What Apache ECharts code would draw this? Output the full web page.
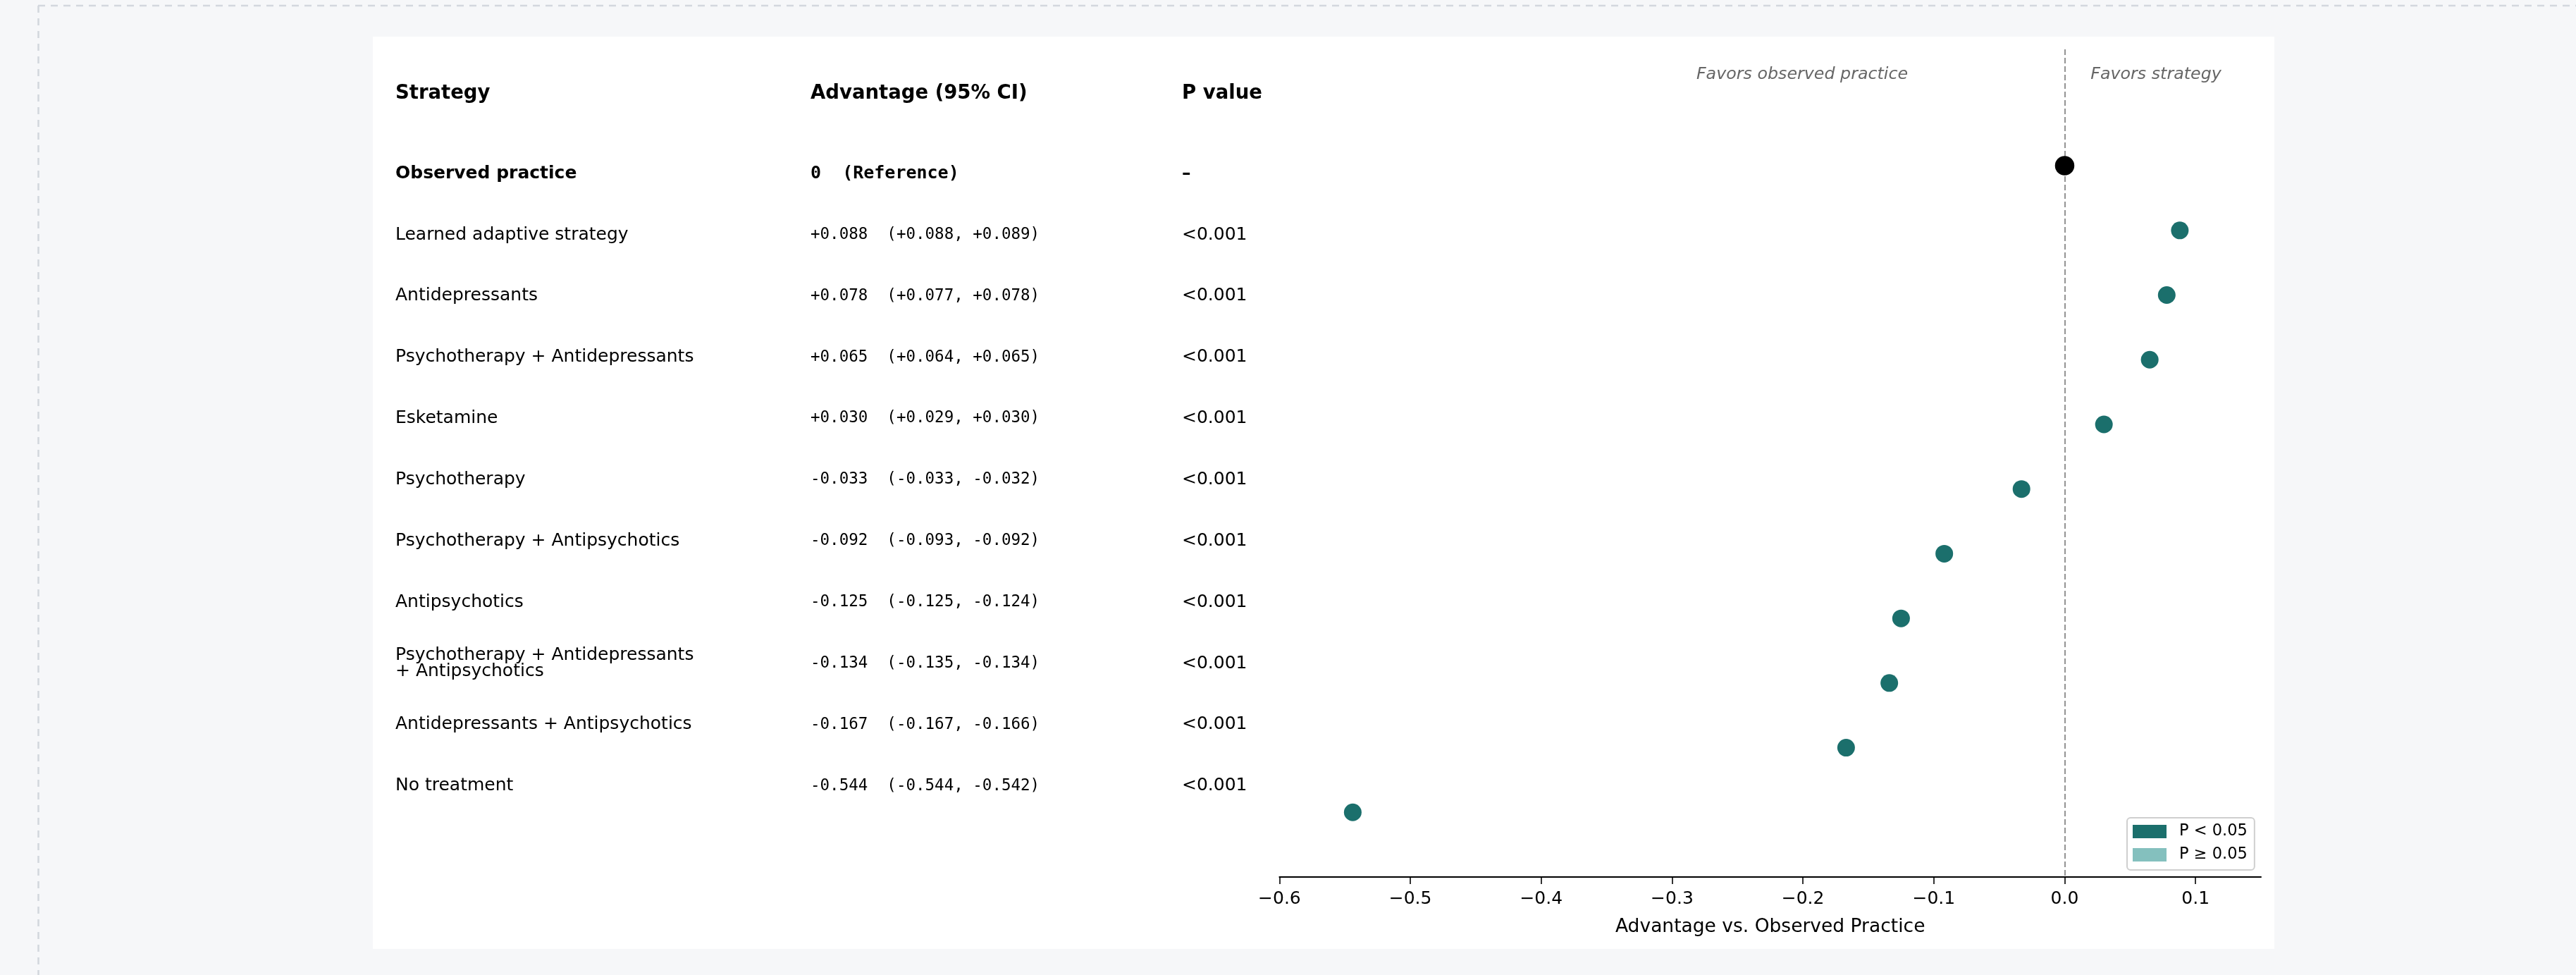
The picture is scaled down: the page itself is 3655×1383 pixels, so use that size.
<!DOCTYPE html>
<html><head><meta charset="utf-8">
<script src="https://cdn.jsdelivr.net/npm/echarts@6/dist/echarts.min.js"></script>
<style>html,body{margin:0;padding:0;background:#f6f7f9;overflow:hidden}#chart{width:3655px;height:1383px;}</style>
</head><body><div id="chart"></div>
<script>
// ---- data ----
const strategies = [
  'Observed practice',
  'Learned adaptive strategy',
  'Antidepressants',
  'Psychotherapy + Antidepressants',
  'Esketamine',
  'Psychotherapy',
  'Psychotherapy + Antipsychotics',
  'Antipsychotics',
  'Psychotherapy + Antidepressants\n+ Antipsychotics',
  'Antidepressants + Antipsychotics',
  'No treatment'
];
const estimates = [0, 0.088, 0.078, 0.065, 0.030, -0.033, -0.092, -0.125, -0.134, -0.167, -0.544];
const ciLower   = [0, 0.088, 0.077, 0.064, 0.029, -0.033, -0.093, -0.125, -0.135, -0.167, -0.544];
const ciUpper   = [0, 0.089, 0.078, 0.065, 0.030, -0.032, -0.092, -0.124, -0.134, -0.166, -0.542];
const pValueLabels = ['–', '<0.001', '<0.001', '<0.001', '<0.001', '<0.001', '<0.001', '<0.001', '<0.001', '<0.001', '<0.001'];
const referenceLabel = '0  (Reference)';
const columnHeaders = ['Strategy', 'Advantage (95% CI)', 'P value'];
const xTickValues = [-0.6, -0.5, -0.4, -0.3, -0.2, -0.1, 0.0, 0.1];
const xTickLabels = ['\u22120.6', '\u22120.5', '\u22120.4', '\u22120.3', '\u22120.2', '\u22120.1', '0.0', '0.1'];
const xAxisTitle = 'Advantage vs. Observed Practice';
const annotations = ['Favors observed practice', 'Favors strategy'];
const legendLabels = ['P < 0.05', 'P \u2265 0.05'];

// ---- helpers ----
function fmt(v) { return (v > 0 ? '+' : (v < 0 ? '-' : '')) + Math.abs(v).toFixed(3); }
function pNum(lbl) { const m = /[\d.]+/.exec(lbl); return m ? parseFloat(m[0]) : null; }
const isRef = strategies.map((s, i) => pNum(pValueLabels[i]) === null);
const isSig = pValueLabels.map(l => { const p = pNum(l); return p !== null && p < 0.05; });

const sigData = [], nonSigData = [], refData = [];
estimates.forEach((v, i) => {
  if (isRef[i]) refData.push([v, i]);
  else if (isSig[i]) sigData.push([v, i]);
  else nonSigData.push([v, i]);
});

const FONT = '"DejaVu Sans"';
const MONO = '"DejaVu Sans Mono"';
const COL_X = [561, 1150, 1677];
const TEAL = '#1b6f6c', LIGHT = '#84c0be';

const chart = echarts.init(document.getElementById('chart'), null, {renderer: 'canvas'});
chart.setOption({
  backgroundColor: '#f6f7f9',
  animation: false,
  textStyle: {fontFamily: FONT},
  graphic: [
    {type: 'rect', shape: {x: 529, y: 52, width: 2698, height: 1294}, style: {fill: '#ffffff'}, z: -10, silent: true},
    {type: 'line', shape: {x1: 54, y1: 8, x2: 3655, y2: 8}, style: {stroke: '#d3d7de', lineWidth: 2.6, lineDash: [10, 8]}, silent: true},
    {type: 'line', shape: {x1: 54.5, y1: 8, x2: 54.5, y2: 1383}, style: {stroke: '#d3d7de', lineWidth: 2.6, lineDash: [10, 8]}, silent: true},
    ...columnHeaders.map((h, k) => ({type: 'text', x: COL_X[k], y: 133, silent: true,
      style: {text: h, font: 'bold 27.5px ' + FONT, fill: '#000', align: 'left', verticalAlign: 'middle'}})),
    {type: 'text', x: 2557, y: 105.5, silent: true, style: {text: annotations[0], font: 'italic 23.75px ' + FONT, fill: '#666', align: 'center', verticalAlign: 'middle'}},
    {type: 'text', x: 3059, y: 105.5, silent: true, style: {text: annotations[1], font: 'italic 23.75px ' + FONT, fill: '#666', align: 'center', verticalAlign: 'middle'}}
  ],
  grid: [
    {left: 1815.4, top: 70, width: 1392.6, height: 1174, containLabel: false},
    {left: 561, top: 202.8, width: 1300, height: 955.35, containLabel: false}
  ],
  xAxis: [
    {gridIndex: 0, type: 'value', min: -0.6, max: 0.15, interval: 0.1,
     axisLine: {show: true, onZero: false, lineStyle: {color: '#000', width: 2}},
     axisTick: {show: true, length: 10, lineStyle: {color: '#000', width: 1.6}, customValues: xTickValues},
     axisLabel: {show: true, margin: 19, fontSize: 25, color: '#000', fontFamily: FONT, customValues: xTickValues,
       formatter: v => { const k = xTickValues.findIndex(t => Math.abs(t - v) < 1e-9); return k >= 0 ? xTickLabels[k] : ''; }},
     splitLine: {show: false},
     name: xAxisTitle, nameLocation: 'middle', nameGap: 58,
     nameTextStyle: {fontSize: 26.5, color: '#000', fontFamily: FONT}},
    {gridIndex: 1, type: 'value', min: 0, max: 1, show: false}
  ],
  yAxis: [
    {gridIndex: 0, type: 'value', inverse: true, min: -1.8, max: 11, show: false, splitLine: {show: false}},
    {gridIndex: 1, type: 'category', inverse: true, data: strategies.map((s, i) => String(i)), show: false, boundaryGap: true}
  ],
  legend: {
    orient: 'vertical', left: 3018, top: 1160,
    data: legendLabels,
    icon: 'rect', itemWidth: 48, itemHeight: 19, itemGap: 10,
    padding: [8, 10, 10, 8],
    backgroundColor: '#fff', borderColor: '#cfcfcf', borderWidth: 2, borderRadius: 5,
    textStyle: {fontSize: 22.5, color: '#000', fontFamily: FONT, padding: [0, 0, 0, 13]}
  },
  series: [
    {type: 'scatter', name: '__zero', xAxisIndex: 0, yAxisIndex: 0, data: [], z: 1, silent: true,
     markLine: {symbol: 'none', silent: true, label: {show: false},
       lineStyle: {color: '#888', type: [8, 4], width: 1.8}, data: [{xAxis: 0}]}},
    {type: 'scatter', name: legendLabels[0], xAxisIndex: 0, yAxisIndex: 0, data: sigData, symbolSize: 25, z: 5,
     itemStyle: {color: TEAL, opacity: 1}},
    {type: 'scatter', name: legendLabels[1], xAxisIndex: 0, yAxisIndex: 0, data: nonSigData, symbolSize: 25, z: 5,
     itemStyle: {color: LIGHT, opacity: 1}},
    {type: 'scatter', name: 'Observed practice', xAxisIndex: 0, yAxisIndex: 0, data: refData, symbolSize: 27.5, z: 6,
     itemStyle: {color: '#000', opacity: 1}},
    {type: 'custom', name: '__table', xAxisIndex: 1, yAxisIndex: 1, silent: true, clip: false,
     data: strategies.map((s, i) => [0, i]),
     renderItem: function (params, api) {
       const i = params.dataIndex;
       const y = api.coord([0, i])[1];
       const ref = isRef[i];
       const adv = ref ? referenceLabel : fmt(estimates[i]) + '  (' + fmt(ciLower[i]) + ', ' + fmt(ciUpper[i]) + ')';
       return {type: 'group', children: [
         {type: 'text', x: COL_X[0], y: y, style: {text: strategies[i], font: (ref ? 'bold ' : '') + '25px ' + FONT, fill: '#000', align: 'left', verticalAlign: 'middle', lineHeight: 23}},
         {type: 'text', x: COL_X[1], y: y, style: {text: adv, font: ref ? 'bold 25px ' + MONO : '22.5px ' + MONO, fill: '#000', align: 'left', verticalAlign: 'middle'}},
         {type: 'text', x: COL_X[2], y: y, style: {text: pValueLabels[i], font: (ref ? 'bold ' : '') + '25px ' + FONT, fill: '#000', align: 'left', verticalAlign: 'middle'}}
       ]};
     }}
  ]
});
</script></body></html>
